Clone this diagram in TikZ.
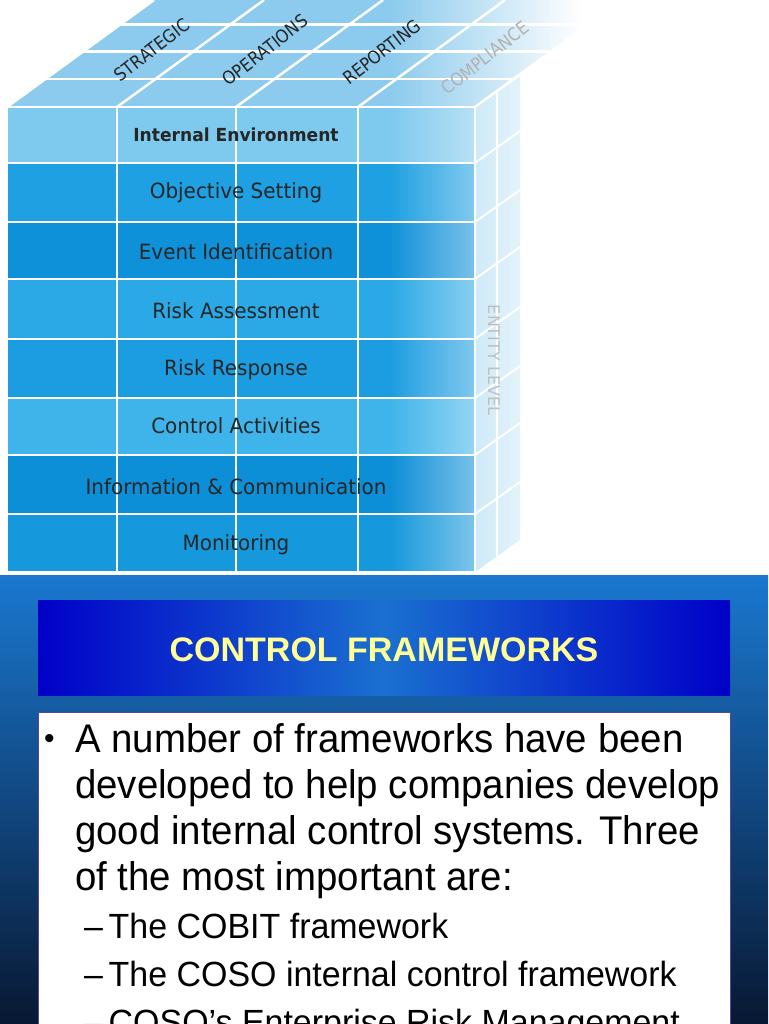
\documentclass[tikz,border=0pt]{standalone}
\usepackage{fontspec}
\setmainfont{Liberation Sans}
\newfontfamily\cubefont{DejaVu Sans}
\usetikzlibrary{fadings,calc}
\definecolor{topc}{HTML}{8CCBED}
\definecolor{sidec}{HTML}{A8DAF3}
\begin{document}
\begin{tikzpicture}[x=1pt,y=-1pt,
  rowtxt/.style={font=\cubefont\fontsize{21}{21}\selectfont,text=black!85,inner sep=0pt,xscale=0.95},
  toptxt/.style={font=\cubefont\fontsize{18}{18}\selectfont,text=black!85,rotate=38,inner sep=0pt,xscale=0.9},
  body/.style={font=\fontsize{40}{40}\selectfont,anchor=base west,inner sep=0pt,xscale=0.96},
  sub/.style={font=\fontsize{35}{35}\selectfont,anchor=base west,inner sep=0pt,xscale=0.97}]
\useasboundingbox (0,0) rectangle (768,1024);
\fill[white] (0,0) rectangle (768,1024);
% top face
\begin{scope}
\clip (0,0) rectangle (768,107);
\fill[topc] (7,107) -- (475,107) -- (622,0) -- (154,0) -- cycle;
\foreach \d in {0,0.26,0.52,0.77}{
  \draw[white,line width=2.5pt] ($(7,107)+\d*(147,-107)$) -- ($(475,107)+\d*(147,-107)$);}
\foreach \c in {7,117,236,358,475}{
  \draw[white,line width=2.5pt] (\c,107) -- ++(147,-107);}
\end{scope}
% side face
\fill[sidec] (475,107) -- (520,75) -- (520,540) -- (475,572) -- cycle;
\foreach \y in {107,163,222,279,339,398,455,514}{
  \draw[white,line width=2pt] (475,\y) -- (520,\y-32);}
\draw[white,line width=2pt] (497,91) -- (497,556);
% front rows
\foreach \ya/\yb/\col in {107/163/7ec9ee,163/222/1ea0e2,222/279/0f91d9,279/339/2aa9e6,339/398/1c9de1,398/455/3fb4ea,455/514/0d8fd8,514/572/1598dc}{
  \definecolor{rc}{HTML}{\col}
  \fill[rc] (7,\ya) rectangle (475,\yb);}
\foreach \y in {107,163,222,279,339,398,455,514,572}{\draw[white,line width=2.5pt] (7,\y) -- (475,\y);}
\foreach \x in {7,117,236,358,475}{\draw[white,line width=2.5pt] (\x,107) -- (\x,572);}
% fade to white on right
\fill[white,path fading=west] (390,0) rectangle (580,575);
\fill[white] (580,0) rectangle (768,575);
% texts
\node[rowtxt,font=\cubefont\bfseries\fontsize{18}{18}\selectfont] (r1) at (236,135) {Internal Environment};
\node[rowtxt] (r2) at (236,193) {Objective Setting};
\node[rowtxt] (r3) at (236,252) {Event Identification};
\node[rowtxt] (r4) at (236,311) {Risk Assessment};
\node[rowtxt] (r5) at (236,370) {Risk Response};
\node[rowtxt] (r6) at (236,426) {Control Activities};
\node[rowtxt] (r7) at (236,487) {Information \& Communication};
\node[rowtxt] (r8) at (236,545) {Monitoring};
\node[toptxt] (t1) at (152,50) {STRATEGIC};
\node[toptxt] (t2) at (265,50) {OPERATIONS};
\node[toptxt] (t3) at (382,52) {REPORTING};
\node[toptxt,text=black!30] (t4) at (485,58) {COMPLIANCE};
\node[font=\cubefont\fontsize{16}{16}\selectfont,text=black!25,rotate=-90,inner sep=0pt] (el) at (494,360) {ENTITY LEVEL};
% slide
\shade[top color={rgb,255:red,26;green,120;blue,208},bottom color={rgb,255:red,8;green,24;blue,50}] (0,575) rectangle (768,1024);
\shade[left color={rgb,255:red,0;green,0;blue,200},right color={rgb,255:red,26;green,112;blue,208}] (38,600) rectangle (384,695);
\shade[right color={rgb,255:red,0;green,0;blue,200},left color={rgb,255:red,26;green,112;blue,208}] (384,600) rectangle (730,695);
\node[font=\bfseries\fontsize{34}{34}\selectfont,text={rgb,255:red,255;green,255;blue,150},inner sep=0pt] (title) at (384,650) {CONTROL FRAMEWORKS};
\draw[fill=white,draw={rgb,255:red,90;green,70;blue,160},line width=1pt] (38,712) rectangle (730,1030);
\node[font=\fontsize{30}{30}\selectfont,anchor=base west,inner sep=0pt] (bul) at (44,748) {•};
\node[body] (l1) at (75,752) {A number of frameworks have been};
\node[body] (l2) at (75,798) {developed to help companies develop};
\node[body] (l3) at (75,844) {good internal control systems. Three};
\node[body] (l4) at (75,890) {of the most important are:};
\node[sub] (s1) at (84,938) {–\,The COBIT framework};
\node[sub] (s2) at (84,986) {–\,The COSO internal control framework};
\node[sub] (s3) at (84,1034) {–\,COSO’s Enterprise Risk Management};
\end{tikzpicture}
\end{document}
